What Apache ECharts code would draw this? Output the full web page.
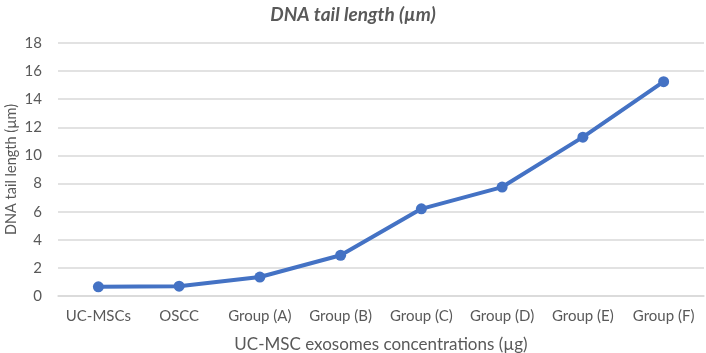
<!DOCTYPE html>
<html>
<head>
<meta charset="utf-8">
<script src="https://cdn.jsdelivr.net/npm/echarts@6/dist/echarts.min.js"></script>
<style>
  html, body { margin: 0; padding: 0; background: #fff; }
  #main { width: 706px; height: 353px; }
</style>
</head>
<body>
<div id="main"></div>
<script>
// data
const categories = ["UC-MSCs", "OSCC", "Group (A)", "Group (B)", "Group (C)", "Group (D)", "Group (E)", "Group (F)"];
const tailLength = [0.65, 0.7, 1.35, 2.9, 6.2, 7.75, 11.3, 15.25];

const textColor = "#595959";
const fontFam = "Lato, 'Open Sans', sans-serif";

const chart = echarts.init(document.getElementById("main"));

const option = {
  animation: false,
  title: {
    text: "DNA tail length (µm)",
    left: "center",
    top: 0,
    textStyle: {
      color: textColor,
      fontSize: 19,
      fontWeight: "bold",
      fontStyle: "italic",
      fontFamily: fontFam,
    },
  },
  grid: {
    left: 58,
    right: 2,
    top: 43,
    bottom: 57,
    outerBoundsMode: "none",
  },
  xAxis: {
    type: "category",
    data: categories,
    name: "UC-MSC exosomes concentrations (µg)",
    nameLocation: "middle",
    nameGap: 40,
    nameMoveOverlap: false,
    nameTextStyle: { color: textColor, fontSize: 17, fontFamily: fontFam },
    axisLine: { lineStyle: { color: "#d9d9d9", width: 1.5 } },
    axisTick: { show: false },
    axisLabel: { color: textColor, fontSize: 15, fontFamily: fontFam, margin: 13, interval: 0 },
  },
  yAxis: {
    type: "value",
    min: 0,
    max: 18,
    interval: 2,
    name: "DNA tail length (µm)",
    nameLocation: "middle",
    nameGap: 39,
    nameMoveOverlap: false,
    nameTextStyle: { color: textColor, fontSize: 14.5, fontFamily: fontFam },
    axisLine: { show: false },
    axisTick: { show: false },
    axisLabel: { color: textColor, fontSize: 15, fontFamily: fontFam, margin: 16 },
    splitLine: { lineStyle: { color: "#d9d9d9", width: 1.5 } },
  },
  series: [
    {
      name: "DNA tail length",
      type: "line",
      data: tailLength,
      symbol: "circle",
      symbolSize: 11,
      itemStyle: { color: "#4472C4" },
      lineStyle: { color: "#4472C4", width: 4 },
    },
  ],
};
chart.setOption(option);
</script>
</body>
</html>
